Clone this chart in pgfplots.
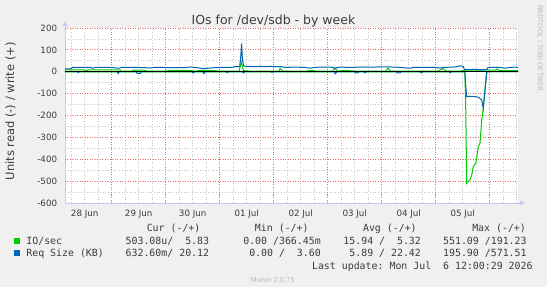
\documentclass[border=0pt]{standalone}
\usepackage{fontspec}
\setmainfont{DejaVu Sans}
\setmonofont{DejaVu Sans Mono}
\usepackage{pgfplots}
\pgfplotsset{compat=1.18}
\usetikzlibrary{arrows.meta,backgrounds}
\definecolor{bgc}{HTML}{F0F0F0}
\definecolor{munG}{HTML}{00CC00}
\definecolor{munB}{HTML}{0066B3}
\definecolor{majgrid}{HTML}{E86868}
\definecolor{mingrid}{HTML}{C4C4C4}
\definecolor{axc}{HTML}{C8C8F4}
\definecolor{txt}{HTML}{3C3C3C}
\definecolor{faint}{HTML}{B8B8B8}
\tikzset{mingl/.style={mingrid, line width=0.7pt, dash pattern=on 0.9pt off 1.8pt},
         majgl/.style={majgrid, line width=0.9pt, dash pattern=on 1pt off 1.5pt}}
\begin{document}
\begin{tikzpicture}[x=1pt,y=1pt]
\begin{axis}[
  name=ax, scale only axis,
  width=453pt, height=175pt,
  xmin=0.135, xmax=8.524, ymin=-600, ymax=200,
  axis background/.style={fill=white},
  axis x line=bottom, axis y line=left,
  axis line style={axc, line width=0.7pt},
  x axis line style={-{Latex[length=5pt,width=5pt]}, shorten >=-7pt},
  y axis line style={-{Latex[length=5pt,width=5pt]}, shorten >=-7pt},
  xtick={0.5,1.5,2.5,3.5,4.5,5.5,6.5,7.5},
  xticklabels={28 Jun,29 Jun,30 Jun,01 Jul,02 Jul,03 Jul,04 Jul,05 Jul},
  ytick={-600,-500,-400,-300,-200,-100,0,100,200},
  yticklabels={-600,-500,-400,-300,-200,-100,0,100,200},
  grid=none,
  major tick length=0pt, minor tick length=0pt,
  ticklabel style={font=\fontsize{8.7}{10}\selectfont, text=txt},
  xticklabel style={anchor=base, yshift=-13.5pt},
  yticklabel style={anchor=east, inner sep=0pt, xshift=-7.7pt},
]
% grid: minor (6 h, 50 units) grey, major (midnight, 100 units) red
\pgfplotsinvokeforeach{0.25,0.5,0.75,1.25,1.5,1.75,2.25,2.5,2.75,3.25,3.5,3.75,4.25,4.5,4.75,5.25,5.5,5.75,6.25,6.5,6.75,7.25,7.5,7.75,8.25,8.5}{
  \draw[mingl] (axis cs:#1,-600) -- (axis cs:#1,200);}
\pgfplotsinvokeforeach{-550,-450,-350,-250,-150,-50,50,150}{
  \draw[mingl] (axis cs:0.135,#1) -- (axis cs:8.524,#1);}
\pgfplotsinvokeforeach{1,2,3,4,5,6,7,8}{
  \draw[majgl] (axis cs:#1,-600) -- (axis cs:#1,200);}
\pgfplotsinvokeforeach{-500,-400,-300,-200,-100,0,100,200}{
  \draw[majgl] (axis cs:0.135,#1) -- (axis cs:8.524,#1);}
% IO/sec write (+)
\addplot[munG, line width=1pt] coordinates {
(0.135,8)(0.50,8)(0.52,4)(0.56,8)(1.15,8)(1.18,3)(1.35,3)(1.43,7)(1.60,7)(1.65,3)(1.98,3)(2.08,6)(2.45,6)(2.55,3)(2.64,6)(2.90,5)(3.00,3)(3.36,3)(3.40,46)(3.44,5)(3.56,3)(4.10,3)(4.12,16)(4.16,3)(4.60,3)(4.70,6)(4.80,3)(5.09,3)(5.135,18)(5.18,3)(5.35,6)(5.50,3)(6.08,3)(6.12,17)(6.16,3)(7.05,3)(7.13,15)(7.20,3)(7.45,3)(7.55,7)(8.10,7)(8.14,13)(8.18,5)(8.524,5)
};
% IO/sec read (-)
\addplot[munG, line width=1pt] coordinates {
(0.135,-1)(7.54,-1)(7.556,-163)(7.574,-510)(7.61,-500)(7.64,-490)(7.667,-472)(7.696,-434)(7.746,-416)(7.789,-343)(7.820,-327)(7.852,-221)(7.881,-167)(7.931,-30)(7.944,0)(8.524,0)
};
% Req size write (+)
\addplot[munB, line width=1pt] coordinates {
(0.135,13)(0.24,13)(0.28,20)(0.60,20)(0.65,16)(0.70,20)(0.97,20)(1.06,18)(1.12,16)(1.20,20)(1.43,20)(1.60,19)(1.71,17)(1.80,20)(2.08,19)(2.36,19)(2.45,22)(2.60,18)(2.70,14)(2.82,17)(3.00,20)(3.22,20)(3.28,23)(3.37,24)(3.39,70)(3.405,130)(3.42,60)(3.44,28)(3.47,24)(3.56,25)(3.65,23)(3.75,25)(3.84,23)(3.93,25)(4.02,23)(4.12,24)(4.21,20)(4.39,21)(4.58,20)(4.67,16)(4.77,20)(4.86,21)(5.04,21)(5.10,20)(5.135,13)(5.17,20)(5.23,21)(5.41,20)(5.60,21)(5.78,21)(5.97,22)(6.15,22)(6.34,20)(6.52,16)(6.60,20)(6.71,20)(6.99,20)(7.08,17)(7.17,20)(7.36,22)(7.45,27)(7.51,24)(7.53,11)(7.64,10)(7.73,11)(7.82,9)(7.95,11)(7.97,20)(8.19,20)(8.28,16)(8.38,20)(8.47,21)(8.524,20)
};
% Req size read (-)
\addplot[munB, line width=1pt] coordinates {
(0.135,0)(0.37,0)(0.38,-4)(0.40,0)(1.10,0)(1.12,-8)(1.14,0)(1.45,0)(1.47,-8)(1.53,-8)(1.55,0)(2.49,0)(2.51,-5)(2.53,0)(2.69,0)(2.71,-9)(2.73,0)(3.12,0)(3.14,-4)(3.16,0)(3.42,0)(3.44,-5)(3.46,0)(3.95,0)(3.97,-3)(3.99,0)(5.12,0)(5.14,-9)(5.17,0)(5.50,0)(5.52,-5)(5.56,-5)(5.58,0)(5.67,0)(5.69,-5)(5.72,0)(6.27,0)(6.29,-5)(6.34,-5)(6.36,0)(6.71,0)(6.73,-5)(6.76,0)(7.25,0)(7.27,-4)(7.29,0)(7.540,0)(7.548,-42)(7.574,-114)(7.635,-112)(7.68,-113)(7.728,-114)(7.789,-116)(7.852,-129)(7.881,-167)(7.913,-83)(7.931,-38)(7.944,-7)(7.95,0)(8.524,0)
};
% zero line
\addplot[black, line width=1.2pt] coordinates {(0.135,0)(8.524,0)};
\coordinate (bl) at (rel axis cs:0,0);
\end{axis}
\begin{scope}[shift={(bl)}, shift={(-65,-84)}]
\useasboundingbox (0,0) rectangle (547,287);
\begin{pgfonlayer}{background}
\fill[bgc] (0,0) rectangle (547,287);
\end{pgfonlayer}
% title and labels
\node[anchor=base, font=\fontsize{12.5}{14}\selectfont, text=txt] at (273.5,262.5) {IOs for /dev/sdb - by week};
\node[rotate=90, anchor=center, font=\fontsize{11.5}{13}\selectfont, text=txt] at (10.5,175.8) {Units read (-) / write (+)};
\node[rotate=-90, anchor=west, font=\fontsize{6.7}{8}\selectfont, text=faint, inner sep=0pt] at (540,282) {RRDTOOL / TOBI OETIKER};
% legend
\begin{scope}[every node/.style={anchor=base east, inner sep=0pt, font=\ttfamily\fontsize{9.9}{11}\selectfont, text=txt}]
\node at (200.6,55.5) {Cur (-/+)};
\node at (308.8,55.5) {Min (-/+)};
\node at (416.9,55.5) {Avg (-/+)};
\node at (526.1,55.5) {Max (-/+)};
\node at (209.3,43) {503.08u/~~5.83};
\node at (321.0,43) {0.00 /366.45m};
\node at (421.1,43) {15.94 /~~5.32};
\node at (526.8,43) {551.09 /191.23};
\node at (209.3,30.5) {632.60m/ 20.12};
\node at (321.0,30.5) {0.00 /~~3.60};
\node at (421.1,30.5) {5.89 / 22.42};
\node at (526.8,30.5) {195.90 /571.51};
\node at (532.8,18) {Last update: Mon Jul~~6 12:00:29 2026};
\node[anchor=base west] at (26.2,43) {IO/sec};
\node[anchor=base west] at (26.2,30.5) {Req Size (KB)};
\end{scope}
\fill[munG] (14,43.5) rectangle (20,49.5);
\fill[munB] (14,31) rectangle (20,37);
\node[anchor=base, font=\fontsize{6.7}{8}\selectfont, text=faint] at (272.8,5) {Munin 2.0.75};
\end{scope}
\end{tikzpicture}
\end{document}
